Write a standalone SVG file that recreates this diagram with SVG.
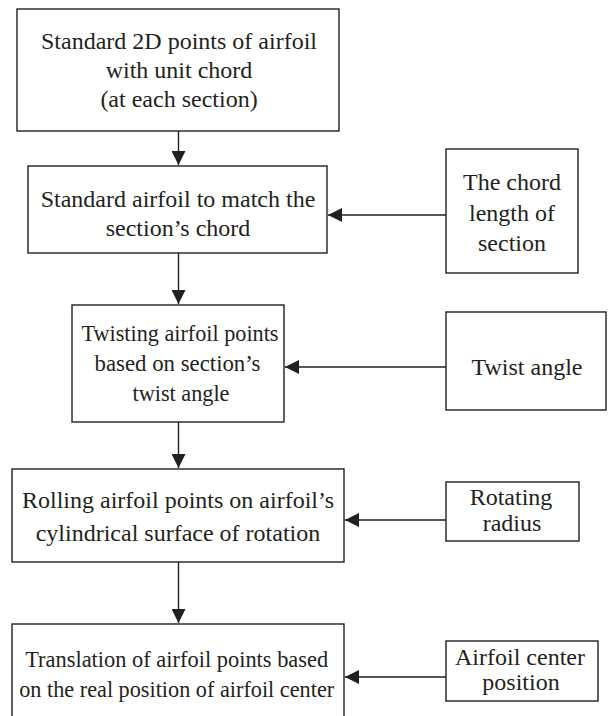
<svg xmlns="http://www.w3.org/2000/svg" width="608" height="716" viewBox="0 0 608 716">
<defs>
<style>
.box{fill:#fff;stroke:#231f20;stroke-width:1.4}
.t{font-family:"Liberation Serif","Times New Roman",serif;font-size:24px;fill:#231f20;text-anchor:middle}
.c{stroke:#231f20;stroke-width:1.4;fill:none}
</style>
<marker id="ah" viewBox="0 0 14 14" refX="14" refY="7" markerWidth="14" markerHeight="14" markerUnits="userSpaceOnUse" orient="auto">
<path d="M0,0 L14,7 L0,14 Z" fill="#231f20"/>
</marker>
</defs>
<rect width="608" height="716" fill="#fff"/>
<g id="connectors">
<line class="c" x1="178.5" y1="131" x2="178.5" y2="165" marker-end="url(#ah)"/>
<line class="c" x1="178.5" y1="253" x2="178.5" y2="304" marker-end="url(#ah)"/>
<line class="c" x1="178.5" y1="422" x2="178.5" y2="468" marker-end="url(#ah)"/>
<line class="c" x1="178.5" y1="562" x2="178.5" y2="623" marker-end="url(#ah)"/>
<line class="c" x1="446" y1="215" x2="328" y2="215" marker-end="url(#ah)"/>
<line class="c" x1="446" y1="367" x2="285" y2="367" marker-end="url(#ah)"/>
<line class="c" x1="446" y1="520" x2="345" y2="520" marker-end="url(#ah)"/>
<line class="c" x1="446" y1="677" x2="345" y2="677" marker-end="url(#ah)"/>
</g>
<g id="n1">
<rect class="box" x="17" y="9" width="322" height="122"/>
<text class="t" x="179" y="49">Standard 2D points of airfoil</text>
<text class="t" x="179" y="78">with unit chord</text>
<text class="t" x="179" y="107">(at each section)</text>
</g>
<g id="n2">
<rect class="box" x="28" y="166" width="299" height="87"/>
<text class="t" x="178" y="207">Standard airfoil to match the</text>
<text class="t" x="178" y="235.5">section’s chord</text>
</g>
<g id="n3">
<rect class="box" x="72" y="305" width="212" height="117"/>
<text class="t" x="180" y="340.5" textLength="197" lengthAdjust="spacingAndGlyphs">Twisting airfoil points</text>
<text class="t" x="177.5" y="370.5" textLength="166" lengthAdjust="spacingAndGlyphs">based on section’s</text>
<text class="t" x="181" y="401" textLength="97" lengthAdjust="spacingAndGlyphs">twist angle</text>
</g>
<g id="n4">
<rect class="box" x="12" y="469" width="332" height="93"/>
<text class="t" x="178" y="508">Rolling airfoil points on airfoil’s</text>
<text class="t" x="178" y="540.5">cylindrical surface of rotation</text>
</g>
<g id="n5">
<rect class="box" x="12" y="624" width="332" height="110"/>
<text class="t" x="176.7" y="666.5" textLength="303" lengthAdjust="spacingAndGlyphs">Translation of airfoil points based</text>
<text class="t" x="176.7" y="697" textLength="315" lengthAdjust="spacingAndGlyphs">on the real position of airfoil center</text>
</g>
<g id="s1">
<rect class="box" x="446" y="149" width="132" height="124"/>
<text class="t" x="512" y="190">The chord</text>
<text class="t" x="512" y="220.5">length of</text>
<text class="t" x="512" y="250.5">section</text>
</g>
<g id="s2">
<rect class="box" x="446" y="312" width="160" height="98"/>
<text class="t" x="527" y="375">Twist angle</text>
</g>
<g id="s3">
<rect class="box" x="446" y="482" width="133" height="59"/>
<text class="t" x="511" y="505">Rotating</text>
<text class="t" x="512" y="530.5">radius</text>
</g>
<g id="s4">
<rect class="box" x="446" y="641" width="152" height="60"/>
<text class="t" x="520" y="665">Airfoil center</text>
<text class="t" x="521" y="690">position</text>
</g>
</svg>
